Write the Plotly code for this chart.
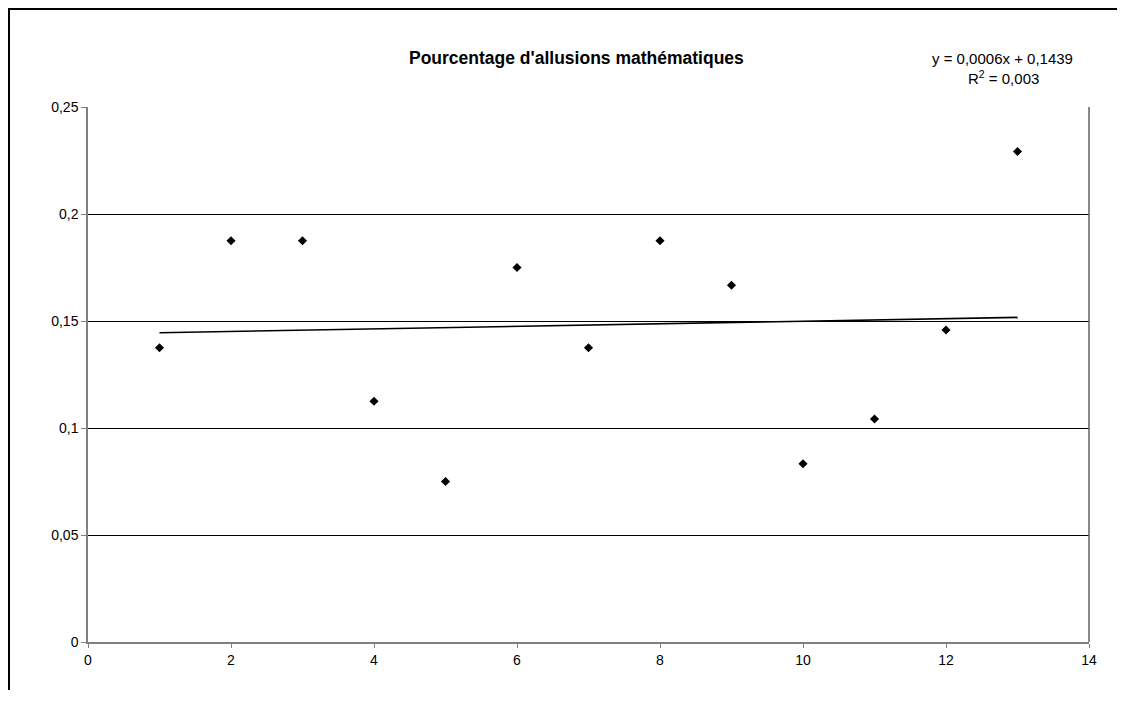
import plotly.graph_objects as go

# Data
x_vals = [1, 2, 3, 4, 5, 6, 7, 8, 9, 10, 11, 12, 13]
y_vals = [0.1375, 0.1875, 0.1875, 0.1125, 0.075, 0.175, 0.1375, 0.1875,
          0.1667, 0.0833, 0.1042, 0.1458, 0.2292]
trend_slope = 0.0006
trend_intercept = 0.1439
trend_x = [1, 13]
x_ticks = [0, 2, 4, 6, 8, 10, 12, 14]
y_ticks = [0, 0.05, 0.1, 0.15, 0.2, 0.25]
y_tick_labels = ["0", "0,05", "0,1", "0,15", "0,2", "0,25"]
title_text = "Pourcentage d'allusions mathématiques"
eq_text = "y = 0,0006x + 0,1439"
r2_text = "R<sup>2</sup> = 0,003"

FONT = "Arial, 'Liberation Sans', sans-serif"

OFF = 8  # page body margin
W, H = 1125 - 2 * OFF, 702 - 2 * OFF - 4
# target plot-area edges in screen pixels
SL, SR, ST, SB = 88, 1089, 107, 642
L, R, T, B = SL - OFF, SR - OFF, ST - OFF, SB - OFF

def px_x(p):
    return (p - SL) / (SR - SL)

def px_y(p):
    return (SB - p) / (SB - ST)

fig = go.Figure()
fig.add_trace(go.Scatter(
    x=x_vals, y=y_vals, mode="markers",
    marker=dict(symbol="diamond", size=7, color="black"),
    showlegend=False, hoverinfo="x+y"))
fig.add_trace(go.Scatter(
    x=trend_x, y=[trend_slope * v + trend_intercept for v in trend_x],
    mode="lines", line=dict(color="black", width=1.6),
    showlegend=False, hoverinfo="skip"))

fig.update_layout(
    width=W, height=H,
    margin=dict(l=L, r=W - R, t=T, b=H - B, pad=0),
    paper_bgcolor="white", plot_bgcolor="white",
    font=dict(family=FONT, size=14, color="black"),
    xaxis=dict(range=[0, 14], tickvals=x_ticks, ticks="outside", ticklen=4,
               tickcolor="#808080", showline=True, linecolor="#808080",
               linewidth=1.5, showgrid=False, zeroline=False,
               tickfont=dict(family=FONT, size=14), mirror=False),
    yaxis=dict(range=[0, 0.25], tickvals=y_ticks, ticktext=y_tick_labels,
               ticks="outside", ticklen=5, tickcolor="#808080",
               showline=True, linecolor="#808080", linewidth=1.5,
               showgrid=True, gridcolor="black", gridwidth=1,
               zeroline=False, tickfont=dict(family=FONT, size=14)),
    shapes=[
        dict(type="line", xref="paper", yref="paper", x0=1, x1=1, y0=0, y1=1,
             line=dict(color="#606060", width=1.5)),
        # outer chart border: top and left edges only
        dict(type="line", xref="paper", yref="paper",
             x0=px_x(8), x1=px_x(OFF + W), y0=px_y(9), y1=px_y(9),
             line=dict(color="black", width=2), layer="above"),
        dict(type="line", xref="paper", yref="paper",
             x0=px_x(9), x1=px_x(9), y0=px_y(8), y1=px_y(OFF + H),
             line=dict(color="black", width=2), layer="above"),
    ],
    annotations=[
        dict(text=title_text, xref="paper", yref="paper", x=px_x(576), y=px_y(58),
             showarrow=False, xanchor="center", yanchor="middle",
             font=dict(family=FONT, size=17.5, color="black", weight="bold")),
        dict(text=eq_text, xref="paper", yref="paper", x=px_x(1002), y=px_y(58),
             showarrow=False, xanchor="center", yanchor="middle",
             font=dict(family=FONT, size=15, color="black")),
        dict(text=r2_text, xref="paper", yref="paper", x=px_x(1003), y=px_y(77),
             showarrow=False, xanchor="center", yanchor="middle",
             font=dict(family=FONT, size=15, color="black")),
    ],
)

fig.write_html("out.html")
